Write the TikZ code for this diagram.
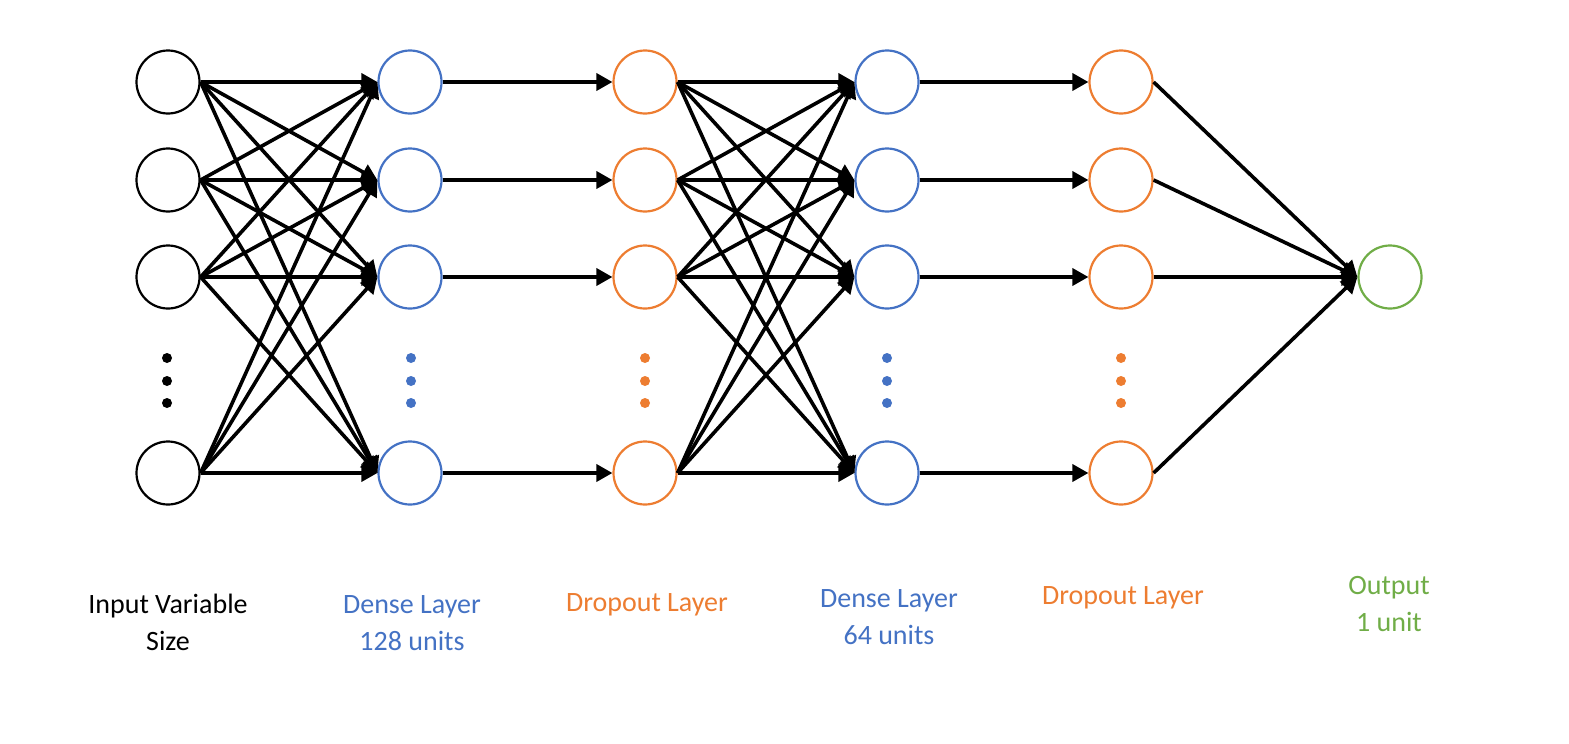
\documentclass[tikz,border=0pt]{standalone}
\usepackage{fontspec}
\setmainfont{Carlito}
\usetikzlibrary{arrows.meta}
\definecolor{cblue}{HTML}{4472C4}
\definecolor{corange}{HTML}{ED7D31}
\definecolor{cgreen}{HTML}{70AD47}
\begin{document}
\begin{tikzpicture}[x=1pt,y=-1pt,
  neuron/.style={circle,draw,line width=2.2pt,minimum size=63pt,inner sep=0pt},
  conn/.style={line width=3.6pt,-{Triangle[length=16pt,width=17pt]}},
  dotmark/.style={circle,fill,inner sep=0pt,minimum size=10pt},
  lbl/.style={font=\fontsize{28}{30}\selectfont,anchor=base,inner sep=0pt}]
\useasboundingbox (0,0) rectangle (1569,744);
% columns
\foreach \i/\y in {1/82,2/180,3/277,4/473}{
  \node[neuron,draw=black] (in\i) at (168,\y) {};
  \node[neuron,draw=cblue] (da\i) at (410,\y) {};
  \node[neuron,draw=corange] (dr\i) at (645,\y) {};
  \node[neuron,draw=cblue] (db\i) at (887,\y) {};
  \node[neuron,draw=corange] (dq\i) at (1121,\y) {};
}
\node[neuron,draw=cgreen] (out) at (1390,277) {};
% dots
\foreach \k/\y in {1/358,2/381,3/403}{
  \node[dotmark,fill=black] (pin\k) at (167,\y) {};
  \node[dotmark,fill=cblue] (pda\k) at (411,\y) {};
  \node[dotmark,fill=corange] (pdr\k) at (645,\y) {};
  \node[dotmark,fill=cblue] (pdb\k) at (887,\y) {};
  \node[dotmark,fill=corange] (pdq\k) at (1121,\y) {};
}
% connections
\foreach \i in {1,...,4}{
  \foreach \j in {1,...,4}{
    \draw[conn] (in\i.east) -- (da\j.west);
    \draw[conn] (dr\i.east) -- (db\j.west);
  }
  \draw[conn] (da\i.east) -- (dr\i.west);
  \draw[conn] (db\i.east) -- (dq\i.west);
  \draw[conn] (dq\i.east) -- (out.west);
}
% labels
\node[lbl] (l1a) at (168,613) {Input Variable};
\node[lbl] (l1b) at (168,650) {Size};
\node[lbl,text=cblue] (l2a) at (412,613) {Dense Layer};
\node[lbl,text=cblue] (l2b) at (412,650) {128 units};
\node[lbl,text=corange] (l3a) at (647,611) {Dropout Layer};
\node[lbl,text=cblue] (l4a) at (889,607) {Dense Layer};
\node[lbl,text=cblue] (l4b) at (889,644) {64 units};
\node[lbl,text=corange] (l5a) at (1123,604) {Dropout Layer};
\node[lbl,text=cgreen] (l6a) at (1389,594) {Output};
\node[lbl,text=cgreen] (l6b) at (1389,631) {1 unit};
\end{tikzpicture}
\end{document}
